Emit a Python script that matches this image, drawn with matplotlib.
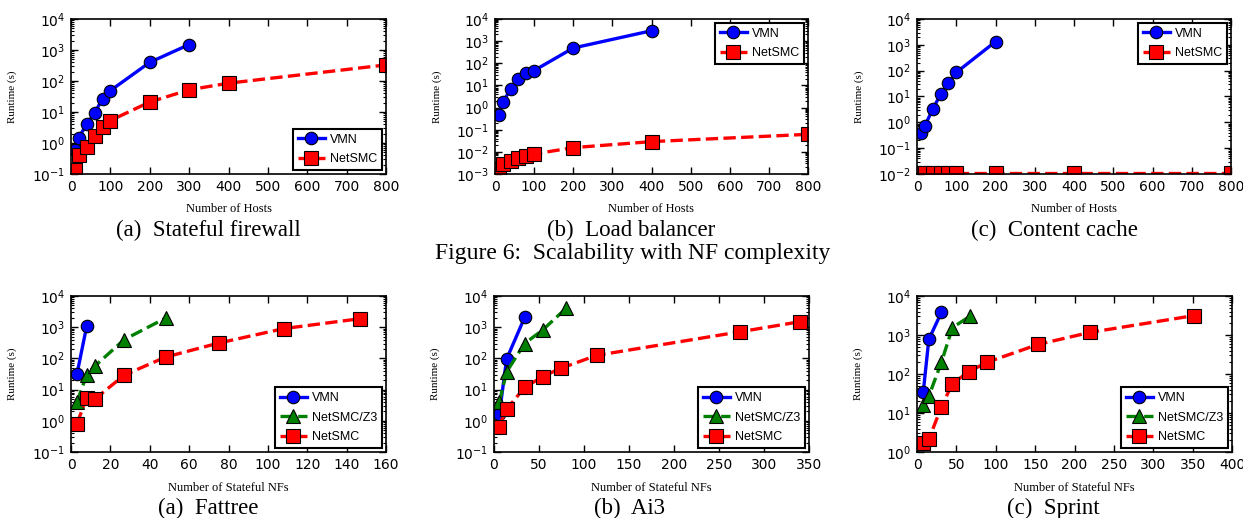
import matplotlib
matplotlib.use('Agg')
import matplotlib.pyplot as plt
from matplotlib.ticker import LogLocator

plt.rcParams['font.family'] = ['DejaVu Sans']
plt.rcParams['mathtext.fontset'] = 'dejavusans'

# --- Figure 6: scalability with NF complexity (runtime in seconds vs. hosts) ---
fw_hosts_vmn = [10, 20, 40, 60, 80, 100, 200, 300]
fw_vmn = [0.6, 1.5, 4.1, 9.2, 27, 49, 400, 1500]
fw_hosts_smc = [10, 20, 40, 60, 80, 100, 200, 300, 400, 800]
fw_smc = [0.13, 0.42, 0.77, 1.7, 3.3, 5.3, 21, 52, 85, 330]

lb_hosts_vmn = [10, 20, 40, 60, 80, 100, 200, 400]
lb_vmn = [0.47, 1.7, 7, 19, 36, 47, 490, 2950]
lb_hosts_smc = [10, 20, 40, 60, 80, 100, 200, 400, 800]
lb_smc = [0.0016, 0.0027, 0.0039, 0.0055, 0.0068, 0.008, 0.0155, 0.029, 0.062]

cc_hosts_vmn = [10, 20, 40, 60, 80, 100, 200]
cc_vmn = [0.38, 0.74, 3.2, 12, 33, 85, 1330]
cc_hosts_smc = [10, 20, 40, 60, 80, 100, 200, 400, 800]
cc_smc = [0.011, 0.011, 0.011, 0.011, 0.011, 0.011, 0.011, 0.011, 0.011]

# --- Figure 7: runtime vs. number of stateful NFs per topology ---
ft_nfs_vmn = [3, 8]
ft_vmn = [31, 1100]
ft_nfs_z3 = [3, 8, 12, 27, 48]
ft_z3 = [4, 30, 56, 400, 1950]
ft_nfs_smc = [3, 8, 12, 27, 48, 75, 108, 147]
ft_smc = [0.8, 5.5, 4.9, 29, 110, 310, 900, 1880]

ai_nfs_vmn = [6, 14, 34]
ai_vmn = [1.7, 95, 2050]
ai_nfs_z3 = [6, 14, 34, 54, 80]
ai_z3 = [4, 37, 300, 810, 4000]
ai_nfs_smc = [5, 14, 34, 54, 74, 114, 273, 340]
ai_smc = [0.63, 2.35, 11.7, 26, 48, 125, 710, 1500]

sp_nfs_vmn = [8, 15, 31]
sp_vmn = [35, 770, 3800]
sp_nfs_z3 = [8, 15, 31, 45, 67]
sp_z3 = [16, 27, 200, 1550, 3000]
sp_nfs_smc = [8, 15, 31, 45, 66, 89, 154, 220, 352]
sp_smc = [1.75, 2.1, 14.4, 57, 115, 200, 575, 1170, 3150]

W, H = 1243, 518
fig = plt.figure(figsize=(W / 100, H / 100), dpi=100)


def px_axes(left, top, right, bottom):
    return fig.add_axes([left / W, 1 - bottom / H, (right - left) / W, (bottom - top) / H])


def panel(ax, series, xlim, xstep, ylim, xlabel, legend_loc):
    for xs, ys, style, label in series:
        if style == 'vmn':
            ax.plot(xs, ys, '-', color='b', lw=2.4, marker='o', ms=9,
                    mfc='b', mec='k', mew=0.8, label=label)
        elif style == 'z3':
            ax.plot(xs, ys, '--', color='g', lw=2.4, marker='^', ms=10,
                    mfc='g', mec='k', mew=0.8, label=label)
        else:
            ax.plot(xs, ys, '--', color='r', lw=2.4, marker='s', ms=9.5,
                    mfc='r', mec='k', mew=0.8, label=label)
    ax.set_yscale('log')
    ax.set_xlim(*xlim)
    ax.set_ylim(*ylim)
    ax.set_xticks(range(xlim[0], xlim[1] + 1, xstep))
    ax.yaxis.set_major_locator(LogLocator(base=10, numticks=20))
    ax.yaxis.set_minor_locator(LogLocator(base=10, subs=range(2, 10), numticks=20))
    ax.tick_params(which='both', direction='in', top=True, right=True,
                   labelsize=10, pad=4)
    ax.tick_params(which='major', length=5, width=1)
    ax.tick_params(which='minor', length=2.5, width=0.8)
    for sp in ax.spines.values():
        sp.set_linewidth(1.2)
    ax.set_xlabel(xlabel, family='Liberation Serif', fontsize=9)
    ax.set_ylabel('Runtime (s)', family='Liberation Serif', fontsize=8)
    ax.xaxis.set_label_coords(0.5, -0.19)
    ax.yaxis.set_label_coords(-0.17, 0.5)
    leg = ax.legend(loc=legend_loc, numpoints=1, fancybox=False, framealpha=1,
                    prop={'family': 'Liberation Sans', 'size': 9},
                    handlelength=2.2, borderpad=0.4, labelspacing=0.6,
                    handletextpad=0.4, borderaxespad=0.3)
    leg.get_frame().set_edgecolor('k')
    leg.get_frame().set_linewidth(1.5)


ax1 = px_axes(71, 19, 386, 174)
panel(ax1, [(fw_hosts_vmn, fw_vmn, 'vmn', 'VMN'), (fw_hosts_smc, fw_smc, 'smc', 'NetSMC')],
      (0, 800), 100, (1e-1, 1e4), 'Number of Hosts', 'lower right')
ax2 = px_axes(495, 19, 808, 174)
panel(ax2, [(lb_hosts_vmn, lb_vmn, 'vmn', 'VMN'), (lb_hosts_smc, lb_smc, 'smc', 'NetSMC')],
      (0, 800), 100, (1e-3, 1e4), 'Number of Hosts', 'upper right')
ax3 = px_axes(917, 19, 1231, 174)
panel(ax3, [(cc_hosts_vmn, cc_vmn, 'vmn', 'VMN'), (cc_hosts_smc, cc_smc, 'smc', 'NetSMC')],
      (0, 800), 100, (1e-2, 1e4), 'Number of Hosts', 'upper right')

ax4 = px_axes(71, 296, 386, 452)
panel(ax4, [(ft_nfs_vmn, ft_vmn, 'vmn', 'VMN'), (ft_nfs_z3, ft_z3, 'z3', 'NetSMC/Z3'),
            (ft_nfs_smc, ft_smc, 'smc', 'NetSMC')],
      (0, 160), 20, (1e-1, 1e4), 'Number of Stateful NFs', 'lower right')
ax5 = px_axes(494, 296, 809, 452)
panel(ax5, [(ai_nfs_vmn, ai_vmn, 'vmn', 'VMN'), (ai_nfs_z3, ai_z3, 'z3', 'NetSMC/Z3'),
            (ai_nfs_smc, ai_smc, 'smc', 'NetSMC')],
      (0, 350), 50, (1e-1, 1e4), 'Number of Stateful NFs', 'lower right')
ax6 = px_axes(917, 296, 1232, 452)
panel(ax6, [(sp_nfs_vmn, sp_vmn, 'vmn', 'VMN'), (sp_nfs_z3, sp_z3, 'z3', 'NetSMC/Z3'),
            (sp_nfs_smc, sp_smc, 'smc', 'NetSMC')],
      (0, 400), 50, (1e0, 1e4), 'Number of Stateful NFs', 'lower right')

captions = [(208, 230, '(a)  Stateful firewall'), (631, 230, '(b)  Load balancer'),
            (1054, 230, '(c)  Content cache'), (208, 508, '(a)  Fattree'),
            (630, 508, '(b)  Ai3'), (1053, 508, '(c)  Sprint')]
for cx, cy, text in captions:
    fig.text(cx / W, 1 - cy / H, text, ha='center', va='center',
             family='Liberation Serif', fontsize=16.5)
fig.text(633 / W, 1 - 253 / H, 'Figure 6:  Scalability with NF complexity',
         ha='center', va='center', family='Liberation Serif', fontsize=17)

fig.savefig('out.png', dpi=100)
